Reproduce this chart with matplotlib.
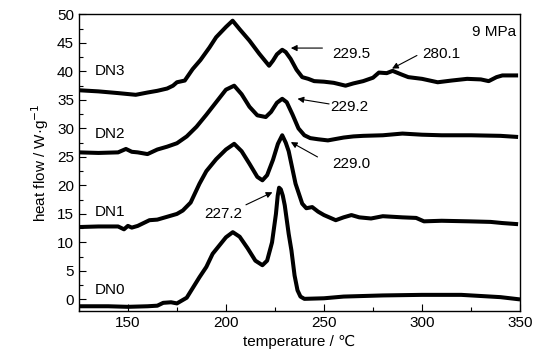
import matplotlib
matplotlib.use('Agg')
import matplotlib.pyplot as plt
from matplotlib.ticker import MultipleLocator

plt.rcParams['font.family'] = ['Liberation Sans', 'DejaVu Sans']
plt.rcParams['font.size'] = 11

# DSC curves (temperature in C, heat flow in W/g)
t_dn0 = [125, 140, 150, 160, 165, 168, 172, 175, 180, 186.5, 190, 193.2, 200, 203.5, 207, 211, 215, 218.6,
         221, 223.5, 225.5, 226.4, 227.1, 228, 229, 230, 232, 233.4, 235, 236.5, 238, 240, 250, 260, 280, 300,
         320, 340, 350]
y_dn0 = [-1.2, -1.2, -1.3, -1.2, -1.1, -0.6, -0.5, -0.7, 0.3, 3.9, 5.7, 8.0, 10.9, 11.8, 11.0, 9.0, 6.8, 6.0,
         6.8, 10.0, 15.0, 18.2, 19.6, 19.3, 18.2, 16.5, 11.5, 8.6, 4.2, 1.6, 0.5, 0.1, 0.2, 0.5, 0.7, 0.8,
         0.8, 0.4, 0.0]

t_dn1 = [125, 135, 145, 148, 150, 152, 155, 161, 165, 170, 175, 178, 182, 186.5, 190, 195, 200, 204.2, 208, 212,
         216, 218.6, 221, 224, 226.5, 228.7, 230.5, 232, 235.5, 238.9, 241, 244, 247, 250, 256, 260, 264, 268,
         274, 280, 290, 297, 301, 310, 324, 335, 341, 349]
y_dn1 = [12.7, 12.8, 12.8, 12.3, 12.9, 12.6, 12.9, 13.9, 14.0, 14.5, 15.0, 15.6, 17.0, 20.3, 22.5, 24.6, 26.3,
         27.3, 26.0, 23.8, 21.5, 20.9, 21.8, 24.5, 27.3, 28.8, 27.5, 26.0, 20.3, 16.8, 16.0, 16.2, 15.4, 14.8,
         13.9, 14.4, 14.8, 14.4, 14.2, 14.6, 14.4, 14.3, 13.7, 13.8, 13.7, 13.6, 13.4, 13.2]

t_dn2 = [125, 135, 145, 149, 152, 155, 160, 165, 170, 175, 180, 185, 190, 195, 200, 204.2, 208, 212, 216, 220.3,
         223, 226, 228.7, 231, 234, 237, 240, 243, 247, 252, 260, 265, 270, 280, 290, 300, 310, 325, 340, 349]
y_dn2 = [25.8, 25.7, 25.8, 26.4, 25.9, 25.8, 25.5, 26.3, 26.8, 27.4, 28.6, 30.3, 32.4, 34.6, 36.8, 37.5, 36.0,
         33.8, 32.3, 32.0, 32.9, 34.5, 35.2, 34.6, 32.4, 30.0, 28.8, 28.3, 28.1, 27.9, 28.4, 28.6, 28.7, 28.8,
         29.1, 28.9, 28.8, 28.8, 28.7, 28.5]

t_dn3 = [125, 135, 145, 154, 160, 165, 170, 173, 175, 179, 183, 187, 191.6, 195, 200, 203.4, 207, 212, 217, 222,
         224, 226, 228.7, 230.5, 233, 236, 238.9, 242, 245, 250, 255, 261, 265, 270, 275, 278, 282, 285, 290,
         293, 300, 308, 315, 323, 330, 334, 338, 341, 349]
y_dn3 = [36.7, 36.5, 36.2, 35.9, 36.3, 36.6, 37.0, 37.5, 38.1, 38.4, 40.4, 42.0, 44.2, 46.0, 47.8, 48.9, 47.4,
         45.4, 43.1, 41.0, 41.9, 43.0, 43.8, 43.4, 42.2, 40.3, 39.0, 38.7, 38.3, 38.2, 38.0, 37.5, 37.9, 38.3,
         38.9, 39.8, 39.7, 40.1, 39.4, 39.0, 38.7, 38.1, 38.4, 38.7, 38.6, 38.3, 39.0, 39.3, 39.3]

names = ['DN0', 'DN1', 'DN2', 'DN3']
name_y = [1.6, 15.3, 29.1, 40.0]

# peak labels: text, text position, arrow tail, arrow tip
peak_text = ['229.5', '280.1', '229.2', '229.0', '227.2']
peak_text_xy = [(254.3, 43.1), (300.0, 43.1), (253.4, 33.7), (254.3, 23.8), (189.0, 15.0)]
peak_tail_xy = [(249.2, 44.1), (297.4, 42.8), (252.6, 34.3), (246.7, 25.0), (210.2, 16.6)]
peak_tip_xy = [(233.1, 44.1), (284.7, 40.5), (236.5, 35.2), (233.1, 27.6), (223.7, 18.8)]

fig = plt.figure(figsize=(5.44, 3.61), dpi=100)
ax = fig.add_axes([0.145, 0.139, 0.811, 0.821])

for t, y in [(t_dn0, y_dn0), (t_dn1, y_dn1), (t_dn2, y_dn2), (t_dn3, y_dn3)]:
    ax.plot(t, y, color='black', lw=2.9, solid_joinstyle='round', solid_capstyle='butt')

for n, yy in zip(names, name_y):
    ax.text(133.1, yy, n, ha='left', va='center')

for s, txy, tail, tip in zip(peak_text, peak_text_xy, peak_tail_xy, peak_tip_xy):
    ax.text(txy[0], txy[1], s, ha='left', va='center')
    ax.annotate('', xy=tip, xytext=tail,
                arrowprops=dict(arrowstyle='-|>', color='black', lw=0.8, mutation_scale=9,
                                shrinkA=0, shrinkB=0))

ax.text(348, 46.9, '9 MPa', ha='right', va='center')

ax.set_xlim(125, 350)
ax.set_ylim(-2, 50)
ax.xaxis.set_major_locator(MultipleLocator(50))
ax.xaxis.set_minor_locator(MultipleLocator(25))
ax.yaxis.set_major_locator(MultipleLocator(5))
ax.yaxis.set_minor_locator(MultipleLocator(2.5))
ax.tick_params(which='both', direction='in', top=False, right=False)
ax.tick_params(which='major', length=5, width=0.8)
ax.tick_params(which='minor', length=3, width=0.8)
for sp in ax.spines.values():
    sp.set_linewidth(1.0)

ax.set_xlabel('temperature / ℃')
ax.set_ylabel('heat flow / W·g$^{-1}$')

fig.savefig('out.png', dpi=100)
